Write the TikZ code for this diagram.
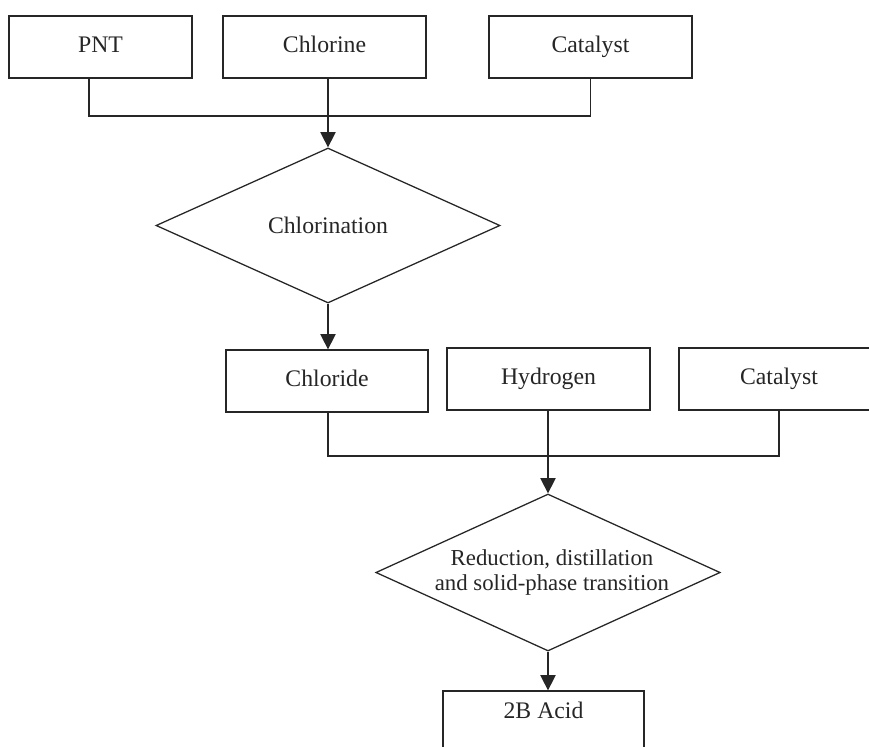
\documentclass[tikz,border=0pt]{standalone}
\usepackage{fontspec}
\setmainfont{Liberation Serif}
\usetikzlibrary{shapes.geometric,arrows.meta}
\begin{document}
\begin{tikzpicture}[x=0.75pt,y=-0.75pt,
  every node/.style={font=\fontsize{17.8pt}{19.3pt}\selectfont, text=black!85},
  box/.style={draw=black!85, line width=0.95pt, rectangle, inner sep=0pt,
    text height=12.75pt, text depth=4.5pt, minimum height=46.5pt},
  dia/.style={draw=black!85, line width=0.95pt, diamond, aspect=2.2, inner sep=0pt,
    minimum width=258pt, align=center},
  conn/.style={draw=black!85, line width=0.95pt},
  arr/.style={conn, -{Triangle[width=11.5pt,length=11.5pt]}}]
\fill[white] (0,0) rectangle (869,747);
\useasboundingbox (0,0) rectangle (869,747);
% top row
\node[box, minimum width=137.25pt] (PNT) at (100.5,47) {PNT};
\node[box, minimum width=152.25pt] (Cl) at (324.5,47) {Chlorine};
\node[box, minimum width=152.25pt] (Cat1) at (590.5,47) {Catalyst};
% chlorination
\node[dia, minimum height=116.25pt] (d1) at (328,225.5) {Chlorination};
% second row
\node[box, minimum width=151.5pt] (Chd) at (327,381) {Chloride};
\node[box, minimum width=152.25pt] (Hy) at (548.5,379) {Hydrogen};
\node[box, minimum width=150pt] (Cat2) at (779,379) {Catalyst};
% reduction
\node[dia, minimum height=117.75pt, font=\fontsize{17.1pt}{19.3pt}\selectfont] (d2) at (548,572.5)
  {\hspace*{6pt}Reduction, distillation\\\hspace*{6pt}and solid-phase transition};
% product
\node[box, minimum width=150.75pt, text depth=18.75pt] (acid) at (543.5,722) {2B Acid};
% connectors
\coordinate (j1) at (328,116);
\coordinate (j2) at (548,456);
\draw[conn] ([xshift=-8.6pt]PNT.south) |- (j1) -| (Cat1.south);
\draw[arr] (Cl.south -| d1.north) -- (d1.north);
\draw[arr] (d1.south) -- (d1.south |- Chd.north);
\draw[conn] (d1.south |- Chd.south) |- (j2) -| (Cat2.south);
\draw[arr] (Hy.south -| d2.north) -- (d2.north);
\draw[arr] (d2.south) -- (d2.south |- acid.north);
\end{tikzpicture}
\end{document}
